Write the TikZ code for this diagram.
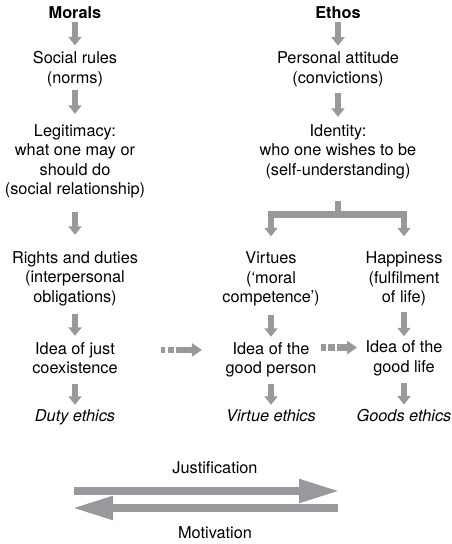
\documentclass[tikz,border=0pt]{standalone}
\usepackage{fontspec}
\setmainfont{TeX Gyre Heros}
\usetikzlibrary{arrows.meta}

\definecolor{arrowgray}{RGB}{152,153,157}

\tikzset{
  txt/.style={inner sep=0pt,outer sep=0pt,align=center,anchor=base,font=\fontsize{16.3}{19.5}\selectfont},
  blk/.style={draw=arrowgray,line width=6.5pt,-{Triangle[width=13pt,length=8.5pt]}},
  dblk/.style={blk,dash pattern=on 4.5pt off 2.5pt on 6.5pt off 2pt on 60pt off 0pt,-{Triangle[width=13pt,length=10pt]}},
  bigblk/.style={draw=arrowgray,line width=8pt,-{Triangle[width=22pt,length=41pt]}}
}

\begin{document}
\begin{tikzpicture}[x=1pt,y=-1pt]
		  \useasboundingbox (0,0) rectangle (452,544);

		  % morals column (base = last line)
		  \node[txt] (morals) at (75,18) {\textbf{Morals}};
		  \node[txt] (rules) at (75,83) {Social rules\\(norms)};
		  \node[txt] (legit) at (75,194.5) {Legitimacy:\\what one may or\\should do\\(social relationship)};
		  \node[txt] (rights) at (75,302) {Rights and duties\\(interpersonal\\obligations)};
		  \node[txt] (coexist) at (75,373.5) {Idea of just\\coexistence};
		  \node[txt] (duty) at (75,421) {\textit{Duty ethics}};

		  % ethos column
		  \node[txt] (ethos) at (338,18) {\textbf{Ethos}};
		  \node[txt] (attitude) at (338,83) {Personal attitude\\(convictions)};
		  \node[txt] (ident) at (338,175) {Identity:\\who one wishes to be\\(self-understanding)};
		  \node[txt] (virt) at (271,302.5) {Virtues\\(`moral\\competence')};
		  \node[txt] (happ) at (404,302.5) {Happiness\\(fulfilment\\of life)};
		  \node[txt] (person) at (271,373.5) {Idea of the\\good person};
		  \node[txt] (goodlife) at (404,372) {Idea of the\\good life};
		  \node[txt] (virtue) at (271,421) {\textit{Virtue ethics}};
		  \node[txt] (goods) at (404,421) {\textit{Goods ethics}};

		  % arrows down the morals column
			\draw[blk,shorten <=4pt,shorten >=6pt] (morals) -- (rules);
			\draw[blk,shorten <=3.5pt,shorten >=10.3pt] (rules) -- (legit);
			\draw[blk,shorten <=14pt,shorten >=16.3pt] (legit) -- (rights);
			\draw[blk,shorten <=8.5pt,shorten >=6.3pt] (rights) -- (coexist);
			\draw[blk,shorten <=10pt,shorten >=4.3pt] (coexist) -- (duty);

		  % arrows down the ethos column
			\draw[blk,shorten <=4pt,shorten >=6pt] (ethos) -- (attitude);
			\draw[blk,shorten <=6.5pt,shorten >=7.3pt] (attitude) -- (ident);
			% fork to virtues and happiness
			\draw[blk,shorten <=22.5pt,shorten >=15.3pt] (ident.south) -- ++(0,36) -| (virt.north);
			\draw[blk,shorten <=22.5pt,shorten >=15.3pt] (ident.south) -- ++(0,36) -| (happ.north);
			\draw[blk,shorten <=8.5pt,shorten >=5.3pt] (virt) -- (person);
			\draw[blk,shorten <=6.5pt,shorten >=4.3pt] (happ) -- (goodlife);
			\draw[blk,shorten <=6.5pt,shorten >=4.3pt] (person) -- (virtue);
			\draw[blk,shorten <=7.5pt,shorten >=4.3pt] (goodlife) -- (goods);

		  % dashed links between the ideas
			\draw[dblk,shorten <=43pt,shorten >=23.7pt] ([yshift=8pt]coexist.east) -- ([yshift=8pt]coexist.east -| person.west);
			\draw[dblk,shorten <=4.7pt,shorten >=8.5pt] ([yshift=12pt]person.east) -- ([yshift=12pt]person.east -| goodlife.west);

		  % justification / motivation
		  \node[txt] (just) at (215,473) {Justification};
		  \node[txt] (motiv) at (215,538) {Motivation};
		  \coordinate (jstart) at (74,491);
		  \coordinate (jend) at (340,491);
		  \coordinate (mstart) at (338,508);
		  \coordinate (mend) at (72,508);
			\draw[bigblk] (jstart) -- (jend);
			\draw[bigblk] (mstart) -- (mend);

    \end{tikzpicture}
\end{document}
